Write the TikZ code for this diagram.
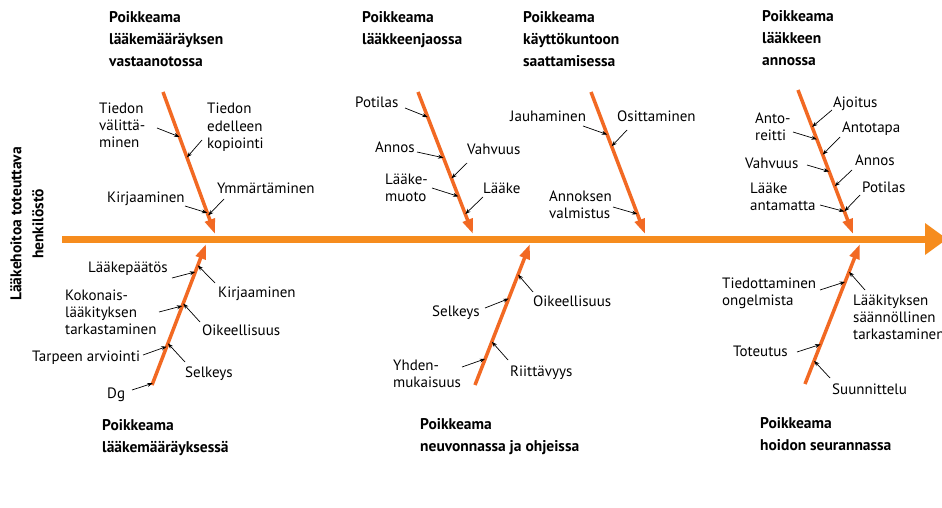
\documentclass[tikz,border=0pt]{standalone}
\usepackage{fontspec}
\setmainfont{PT Sans}
\usetikzlibrary{calc,arrows.meta}
\definecolor{spinec}{RGB}{246,140,30}
\definecolor{bonec}{RGB}{242,105,35}
\begin{document}
\begin{tikzpicture}[x=1pt,y=-1pt,
  lab/.style={font=\fontsize{15}{17}\selectfont, align=left, inner sep=0pt, anchor=base west},
  ttl/.style={font=\bfseries\fontsize{15.5}{22}\selectfont, align=left, inner sep=0pt, anchor=base west},
  bone/.style={draw=bonec, line width=3.5pt, -{Triangle[length=15pt,width=10pt]}},
  pin/.style={draw=black, line width=0.7pt, -{Stealth[length=5.5pt,width=4pt]}}]
\useasboundingbox[fill=white] (0,0) rectangle (942,508);

% spine
\coordinate (sp0) at (62,239);
\coordinate (sp1) at (926,239);
\coordinate (tip) at (947,239);
\draw[spinec, line width=7pt] (sp0) -- (sp1);
\fill[spinec] (925,223) -- (tip) -- (925,255) -- cycle;

% vertical label
\node[font=\bfseries\fontsize{15.5}{22}\selectfont, align=center, rotate=90, inner sep=0pt] (side) at (27,224) {Lääkehoitoa toteuttava\\henkilöstö};

% bones
\coordinate (t1s) at (163,92);  \coordinate (t1e) at (215,234);
\coordinate (t2s) at (418,92);  \coordinate (t2e) at (473,234);
\coordinate (t3s) at (591,92);  \coordinate (t3e) at (645,234);
\coordinate (t4s) at (798,90);  \coordinate (t4e) at (853,234);
\coordinate (u1s) at (152,385); \coordinate (u1e) at (206,244);
\coordinate (u2s) at (475,385); \coordinate (u2e) at (530,244);
\coordinate (u3s) at (805,384); \coordinate (u3e) at (860,244);
\foreach \b in {t1,t2,t3,t4,u1,u2,u3} \draw[bone] (\b s) -- (\b e);

% titles (anchor = baseline of last line)
\node[ttl] (T1) at (109,67) {Poikkeama\\lääkemääräyksen\\vastaanotossa};
\node[ttl] (T2) at (362,45) {Poikkeama\\lääkkeenjaossa};
\node[ttl] (T3) at (523,67) {Poikkeama\\käyttökuntoon\\saattamisessa};
\node[ttl] (T4) at (762,66) {Poikkeama\\lääkkeen\\annossa};
\node[ttl] (U1) at (102,452) {Poikkeama\\lääkemääräyksessä};
\node[ttl] (U2) at (420,451) {Poikkeama\\neuvonnassa ja ohjeissa};
\node[ttl] (U3) at (760,450) {Poikkeama\\hoidon seurannassa};

% top 1
\node[lab] (l11) at (99,147) {Tiedon\\välittä-\\minen};
\node[lab] (l12) at (207,148) {Tiedon\\edelleen\\kopiointi};
\node[lab] (l13) at (107,202) {Kirjaaminen};
\node[lab] (l14) at (217,193) {Ymmärtäminen};
\coordinate (p11) at (157,128); \draw[pin] (p11) -- ($(t1s)!(179,137)!(t1e)$);
\coordinate (p12) at (202,140); \draw[pin] (p12) -- ($(t1s)!(188,157)!(t1e)$);
\coordinate (p13) at (185,206); \draw[pin] (p13) -- ($(t1s)!(207,213)!(t1e)$);
\coordinate (p14) at (224,199); \draw[pin] (p14) -- ($(t1s)!(212,214)!(t1e)$);

% top 2
\node[lab] (l21) at (355,108) {Potilas};
\node[lab] (l22) at (375,153) {Annos};
\node[lab] (l23) at (467,154) {Vahvuus};
\node[lab] (l24) at (385,201) {Lääke-\\muoto};
\node[lab] (l25) at (483,193) {Lääke};
\coordinate (p21) at (405,108); \draw[pin] (p21) -- ($(t2s)!(428,117)!(t2e)$);
\coordinate (p22) at (417,152); \draw[pin] (p22) -- ($(t2s)!(443,158)!(t2e)$);
\coordinate (p23) at (467,163); \draw[pin] (p23) -- ($(t2s)!(455,177)!(t2e)$);
\coordinate (p24) at (432,188); \draw[pin] (p24) -- ($(t2s)!(457,197)!(t2e)$);
\coordinate (p25) at (483,197); \draw[pin] (p25) -- ($(t2s)!(468,213)!(t2e)$);

% top 3
\node[lab] (l31) at (510,122) {Jauhaminen};
\node[lab] (l32) at (617,122) {Osittaminen};
\node[lab] (l33) at (549,218) {Annoksen\\valmistus};
\coordinate (p31) at (583,126); \draw[pin] (p31) -- ($(t3s)!(606,135)!(t3e)$);
\coordinate (p32) at (627,130); \draw[pin] (p32) -- ($(t3s)!(615,145)!(t3e)$);
\coordinate (p33) at (613,207); \draw[pin] (p33) -- ($(t3s)!(635,215)!(t3e)$);

% top 4
\node[lab] (l41) at (833,108) {Ajoitus};
\node[lab] (l42) at (755,140) {Anto-\\reitti};
\node[lab] (l43) at (842,133) {Antotapa};
\node[lab] (l44) at (745,168) {Vahvuus};
\node[lab] (l45) at (855,165) {Annos};
\node[lab] (l46) at (750,210) {Lääke\\antamatta};
\node[lab] (l47) at (862,192) {Potilas};
\coordinate (p41) at (832,110); \draw[pin] (p41) -- ($(t4s)!(817,125)!(t4e)$);
\coordinate (p42) at (793,132); \draw[pin] (p42) -- ($(t4s)!(815,140)!(t4e)$);
\coordinate (p43) at (840,137); \draw[pin] (p43) -- ($(t4s)!(827,153)!(t4e)$);
\coordinate (p44) at (807,165); \draw[pin] (p44) -- ($(t4s)!(828,172)!(t4e)$);
\coordinate (p45) at (852,170); \draw[pin] (p45) -- ($(t4s)!(838,185)!(t4e)$);
\coordinate (p46) at (820,205); \draw[pin] (p46) -- ($(t4s)!(843,212)!(t4e)$);
\coordinate (p47) at (860,195); \draw[pin] (p47) -- ($(t4s)!(848,210)!(t4e)$);

% bottom 1
\node[lab] (m11) at (88,272) {Lääkepäätös};
\node[lab] (m12) at (218,297) {Kirjaaminen};
\node[lab] (m13) at (65,334) {Kokonais-\\lääkityksen\\tarkastaminen};
\node[lab] (m14) at (202,335) {Oikeellisuus};
\node[lab] (m15) at (32,361) {Tarpeen arviointi};
\node[lab] (m16) at (185,377) {Selkeys};
\node[lab] (m17) at (107,398) {Dg};
\coordinate (q11) at (172,278); \draw[pin] (q11) -- ($(u1s)!(193,271)!(u1e)$);
\coordinate (q12) at (215,283); \draw[pin] (q12) -- ($(u1s)!(202,267)!(u1e)$);
\coordinate (q13) at (159,312); \draw[pin] (q13) -- ($(u1s)!(180,305)!(u1e)$);
\coordinate (q14) at (200,322); \draw[pin] (q14) -- ($(u1s)!(187,305)!(u1e)$);
\coordinate (q15) at (143,355); \draw[pin] (q15) -- ($(u1s)!(168,347)!(u1e)$);
\coordinate (q16) at (185,362); \draw[pin] (q16) -- ($(u1s)!(172,345)!(u1e)$);
\coordinate (q17) at (132,390); \draw[pin] (q17) -- ($(u1s)!(152,383)!(u1e)$);

% bottom 2
\node[lab] (m21) at (432,316) {Selkeys};
\node[lab] (m22) at (533,306) {Oikeellisuus};
\node[lab] (m23) at (393,387) {Yhden-\\mukaisuus};
\node[lab] (m24) at (510,376) {Riittävyys};
\coordinate (q21) at (485,308); \draw[pin] (q21) -- ($(u2s)!(507,298)!(u2e)$);
\coordinate (q22) at (533,292); \draw[pin] (q22) -- ($(u2s)!(519,275)!(u2e)$);
\coordinate (q23) at (462,367); \draw[pin] (q23) -- ($(u2s)!(483,358)!(u2e)$);
\coordinate (q24) at (508,360); \draw[pin] (q24) -- ($(u2s)!(495,343)!(u2e)$);

% bottom 3
\node[lab] (m31) at (722,305) {Tiedottaminen\\ongelmista};
\node[lab] (m32) at (853,339) {Lääkityksen\\säännöllinen\\tarkastaminen};
\node[lab] (m33) at (733,356) {Toteutus};
\node[lab] (m34) at (832,394) {Suunnittelu};
\coordinate (q31) at (820,290); \draw[pin] (q31) -- ($(u3s)!(843,281)!(u3e)$);
\coordinate (q32) at (865,290); \draw[pin] (q32) -- ($(u3s)!(852,273)!(u3e)$);
\coordinate (q33) at (797,352); \draw[pin] (q33) -- ($(u3s)!(817,343)!(u3e)$);
\coordinate (q34) at (830,378); \draw[pin] (q34) -- ($(u3s)!(817,362)!(u3e)$);
\end{tikzpicture}
\end{document}
